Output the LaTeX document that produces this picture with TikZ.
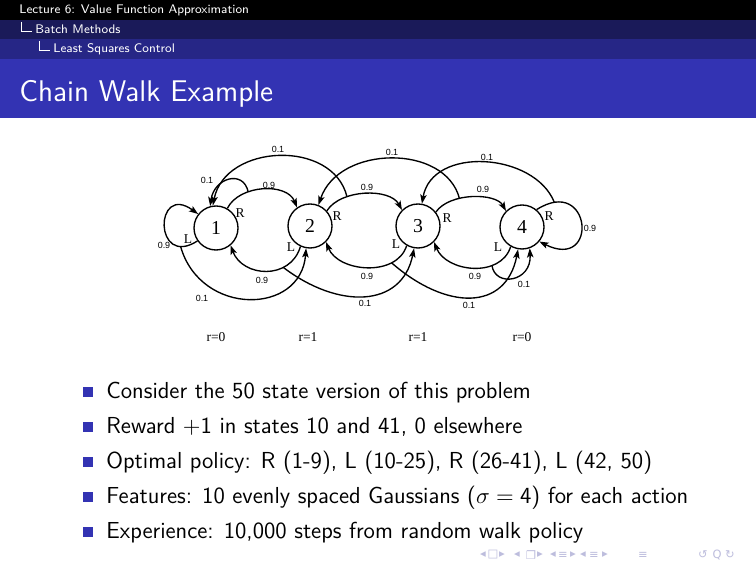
\documentclass[tikz,border=0pt]{standalone}
\usepackage{fontspec}
\newfontfamily\serifd{Liberation Serif}
\newfontfamily\sansd{Liberation Sans}
\newfontfamily\dejavu{DejaVu Sans}
\usetikzlibrary{arrows.meta,calc}
\definecolor{hdrA}{HTML}{1A1A59}
\definecolor{hdrB}{HTML}{262686}
\definecolor{struct}{HTML}{3333B3}
\definecolor{navcol}{HTML}{BDBDDD}
\begin{document}
\begin{tikzpicture}[x=0.16931mm, y=-0.16931mm,
  st/.style={circle, draw, line width=0.65pt, minimum size=7.45mm, inner sep=0pt, font=\serifd\fontsize{9.5}{10}\selectfont},
  arr/.style={line width=0.65pt, -{Stealth[length=4.4pt,width=3.1pt,inset=1pt]}},
  prob/.style={inner sep=0pt, font=\sansd\fontsize{4.3}{5}\selectfont},
  act/.style={inner sep=0pt, font=\serifd\fontsize{6.5}{7}\selectfont},
  rew/.style={inner sep=0pt, font=\serifd\fontsize{6.5}{7}\selectfont},
  hdr/.style={anchor=west, inner sep=0pt, text=white, font=\sffamily\fontsize{6}{7}\selectfont},
  bul/.style={rectangle, fill=struct, minimum size=1.55mm, inner sep=0pt},
  btxt/.style={anchor=base west, inner sep=0pt, font=\sffamily\fontsize{11.15}{13}\selectfont},
  nav/.style={inner sep=0pt, text=navcol, font=\dejavu\fontsize{5.5}{6}\selectfont}]
\useasboundingbox (0,0) rectangle (756,567);
\fill[white] (0,0) rectangle (756,567);
% headline
\fill[black] (0,0) rectangle (756,20);
\fill[hdrA] (0,20) rectangle (756,39);
\fill[hdrB] (0,39) rectangle (756,59);
\fill[struct] (0,59) rectangle (756,118);
\node[hdr] (h1) at (19,10) {Lecture 6: Value Function Approximation};
\draw[white, line width=0.35pt] (21,22) -- (21,31) -- (32,31);
\node[hdr] (h2) at (35,29.5) {Batch Methods};
\draw[white, line width=0.35pt] (39,41) -- (39,50) -- (50,50);
\node[hdr] (h3) at (53,49) {Least Squares Control};
\node[anchor=base west, inner sep=0pt, text=white, font=\sffamily\fontsize{14.4}{16}\selectfont] (title) at (19,102) {Chain Walk Example};
% states
\node[st] (s1) at (216,228) {1};
\node[st] (s2) at (310,226) {2};
\node[st] (s3) at (418,226) {3};
\node[st] (s4) at (522,227) {4};
% loops
\draw[arr] (s1.-145) .. controls +(-44,28) and +(-44,-32) .. coordinate[pos=0.15] (b0) (s1.142);
\draw[arr] (s4.50) .. controls +(55,-35) and +(60,30) .. coordinate[pos=0.12] (b4) (s4.-40);
% R arcs 0.9
\draw[arr] (s1.60) .. controls +(12,-24) and +(-10,-25) .. coordinate[pos=0.33] (b1) (s2.125);
\draw[arr] (s2.42) .. controls +(14,-22) and +(-12,-22) .. coordinate[pos=0.3] (b2) (s3.135);
\draw[arr] (s3.38) .. controls +(14,-20) and +(-10,-18) .. coordinate[pos=0.35] (b3) (s4.135);
% R arcs 0.1
\draw[arr] (b1) .. controls +(-5,-23) and +(4,-28) .. (s1.105);
\draw[arr] (b2) .. controls +(-14,-58) and +(12,-62) .. (s1.98);
\draw[arr] (b3) .. controls +(-14,-55) and +(20,-60) .. (s2.68);
\draw[arr] (b4) .. controls +(-20,-50) and +(10,-58) .. (s3.80);
% L arcs 0.9
\draw[arr] (s2.-115) .. controls +(-10,34) and +(12,32) .. coordinate[pos=0.3] (c2) (s1.-50);
\draw[arr] (s3.-120) .. controls +(-10,32) and +(12,30) .. coordinate[pos=0.25] (c3) (s2.-45);
\draw[arr] (s4.-120) .. controls +(-10,32) and +(12,30) .. coordinate[pos=0.3] (c4) (s3.-45);
% L arcs 0.1
\draw[arr] (b0) .. controls +(20,70) and +(-5,67) .. (s2.-100);
\draw[arr] (c2) .. controls +(55,42) and +(-12,60) .. (s3.-100);
\draw[arr] (c3) .. controls +(55,48) and +(-12,62) .. (s4.-100);
\draw[arr] (c4) .. controls +(3,22) and +(2,34) .. (s4.-70);
% probability labels
\node[prob] (p1) at (269,185) {0.9};
\node[prob] (p2) at (367,187) {0.9};
\node[prob] (p3) at (483,189) {0.9};
\node[prob] (p4) at (262,280) {0.9};
\node[prob] (p5) at (367,276) {0.9};
\node[prob] (p6) at (475,276) {0.9};
\node[prob] (p7) at (207,180) {0.1};
\node[prob] (p8) at (278,149) {0.1};
\node[prob] (p9) at (392,152) {0.1};
\node[prob] (p10) at (487,157) {0.1};
\node[prob] (p11) at (202,298) {0.1};
\node[prob] (p12) at (365,303) {0.1};
\node[prob] (p13) at (469,305) {0.1};
\node[prob] (p14) at (524,284) {0.1};
\node[prob] (p15) at (164,245) {0.9};
\node[prob] (p16) at (590,228) {0.9};
% action labels
\node[act] (r1) at (240,213) {R};
\node[act] (r2) at (337,216) {R};
\node[act] (r3) at (447,218) {R};
\node[act] (r4) at (549,216) {R};
\node[act] (l1) at (188,239) {L};
\node[act] (l2) at (291,247) {L};
\node[act] (l3) at (396,244) {L};
\node[act] (l4) at (498,247) {L};
% rewards
\node[rew] (w1) at (216,337) {r=0};
\node[rew] (w2) at (308,337) {r=1};
\node[rew] (w3) at (418,337) {r=1};
\node[rew] (w4) at (522,337) {r=0};
% bullets
\node[bul] (u1) at (88,392) {};
\node[bul] (u2) at (88,427) {};
\node[bul] (u3) at (88,462) {};
\node[bul] (u4) at (88,497) {};
\node[bul] (u5) at (88,532) {};
\node[btxt] (t1) at (106,398) {Consider the 50 state version of this problem};
\node[btxt] (t2) at (106,433) {Reward $+$1 in states 10 and 41, 0 elsewhere};
\node[btxt] (t3) at (106,468) {Optimal policy: R (1-9), L (10-25), R (26-41), L (42, 50)};
\node[btxt] (t4) at (106,503) {Features: 10 evenly spaced Gaussians ($\sigma = \mathsf{4}$) for each action};
\node[btxt] (t5) at (106,538) {Experience: 10,000 steps from random walk policy};
% navigation symbols
\foreach \x/\g [count=\i] in {483/◂,493/□,502/▸,517/◂,531/❐,540/▸,553/◂,563/≡,573/▸,583/◂,594/≡,605/▸,643/≡,703/↺,717/Q,730/↻}
  \node[nav] (nav\i) at (\x,555) {\g};
\end{tikzpicture}
\end{document}
